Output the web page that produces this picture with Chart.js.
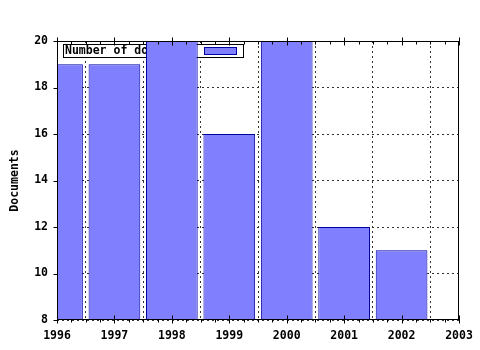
<!DOCTYPE html>
<html><head><meta charset="utf-8">
<script src="https://cdn.jsdelivr.net/npm/chart.js@4/dist/chart.umd.min.js"></script>
<style>html,body{margin:0;padding:0;background:#fff}#c{display:block}</style>
</head><body>
<canvas id="c" width="480" height="350"></canvas>
<script>
const years = [1996, 1997, 1998, 1999, 2000, 2001, 2002];
const documents = [19, 19, 20, 16, 20, 12, 11];
const seriesLabel = 'Number of documents';
const yTitle = 'Documents';
const xMin = 1996, xMax = 2003, yMin = 8, yMax = 20;

const FONT = 'DejaVu Sans Mono';

const framePlugin = {
  id: 'frame',
  beforeDatasetsDraw(chart) {
    const ctx = chart.ctx, a = chart.chartArea;
    const bx = a.left + 6, by = a.top + 3, bw = 180, bh = 13;
    ctx.save();
    ctx.fillStyle = '#fff';
    ctx.fillRect(bx, by, bw, bh);
    ctx.strokeStyle = '#000'; ctx.lineWidth = 1;
    ctx.strokeRect(bx + 0.5, by + 0.5, bw, bh);
    ctx.fillStyle = '#000';
    ctx.font = 'bold 11.5px ' + FONT;
    ctx.textBaseline = 'middle'; ctx.textAlign = 'left';
    ctx.fillText(chart.data.datasets[0].label, bx + 2, by + bh / 2 + 1);
    ctx.fillStyle = '#8080ff';
    ctx.fillRect(bx + 141, by + 3, 33, 8);
    ctx.strokeStyle = '#0000a0';
    ctx.strokeRect(bx + 141.5, by + 3.5, 32, 7);
    ctx.restore();
  },
  afterDatasetsDraw(chart) {
    const ctx = chart.ctx, a = chart.chartArea;
    const xs = chart.scales.x, ys = chart.scales.y;
    ctx.save();
    ctx.strokeStyle = '#000'; ctx.lineWidth = 1;
    ctx.strokeRect(Math.round(a.left) + 0.5, Math.round(a.top) + 0.5,
                   Math.round(a.right - a.left) - 1, Math.round(a.bottom - a.top) - 1);
    ctx.beginPath();
    const top = Math.round(a.top) + 0.5, bot = Math.round(a.bottom) - 0.5;
    for (let v = xMin; v <= xMax + 1e-9; v += 0.25) {
      const px = Math.round(xs.getPixelForValue(v)) + 0.5;
      const major = Math.abs(v - Math.round(v)) < 1e-9;
      if (major) {
        ctx.moveTo(px, bot - 4); ctx.lineTo(px, bot + 4);
        ctx.moveTo(px, top - 4); ctx.lineTo(px, top + 4);
      } else {
        ctx.moveTo(px, bot); ctx.lineTo(px, bot + 3);
        ctx.moveTo(px, top); ctx.lineTo(px, top + 3);
      }
    }
    const lx = Math.round(a.left) + 0.5;
    for (let v = yMin; v <= yMax; v += 2) {
      const py = Math.round(ys.getPixelForValue(v)) + 0.5;
      ctx.moveTo(lx - 4, py); ctx.lineTo(lx, py);
    }
    ctx.stroke();
    ctx.restore();
  }
};

new Chart(document.getElementById('c'), {
  type: 'bar',
  data: {
    datasets: [{
      label: seriesLabel,
      data: years.map((y, i) => ({ x: y, y: documents[i] })),
      backgroundColor: '#8080ff',
      borderColor: '#0000a0',
      borderWidth: 1,
      borderSkipped: 'bottom',
      barPercentage: 0.9,
      categoryPercentage: 1.0
    }]
  },
  options: {
    responsive: false,
    animation: false,
    devicePixelRatio: 1,
    layout: { padding: { left: 0, top: 41, right: 21, bottom: 0 } },
    plugins: { legend: { display: false }, tooltip: { enabled: false } },
    scales: {
      x: {
        type: 'linear', min: xMin, max: xMax, offset: false,
        ticks: { stepSize: 1, color: '#000', padding: 9,
                 font: { family: FONT, size: 11.5, weight: 'bold' },
                 callback: v => String(v), maxRotation: 0 },
        grid: { color: '#333', drawTicks: false, lineWidth: 1 },
        border: { display: false, dash: [2, 3] },
        afterFit(s) { s.height = 30; s.paddingLeft = 0; s.paddingRight = 0; }
      },
      y: {
        min: yMin, max: yMax,
        ticks: { stepSize: 2, color: '#000', padding: 9,
                 font: { family: FONT, size: 11.5, weight: 'bold' } },
        grid: { color: '#333', drawTicks: false, lineWidth: 1 },
        border: { display: false, dash: [2, 3] },
        title: { display: true, text: yTitle, color: '#000', padding: { top: 8, bottom: 0 },
                 font: { family: FONT, size: 11.5, weight: 'bold' } },
        afterFit(s) { s.width = 57; s.paddingTop = 0; s.paddingBottom = 0; }
      }
    }
  },
  plugins: [framePlugin]
});
</script>
</body></html>
